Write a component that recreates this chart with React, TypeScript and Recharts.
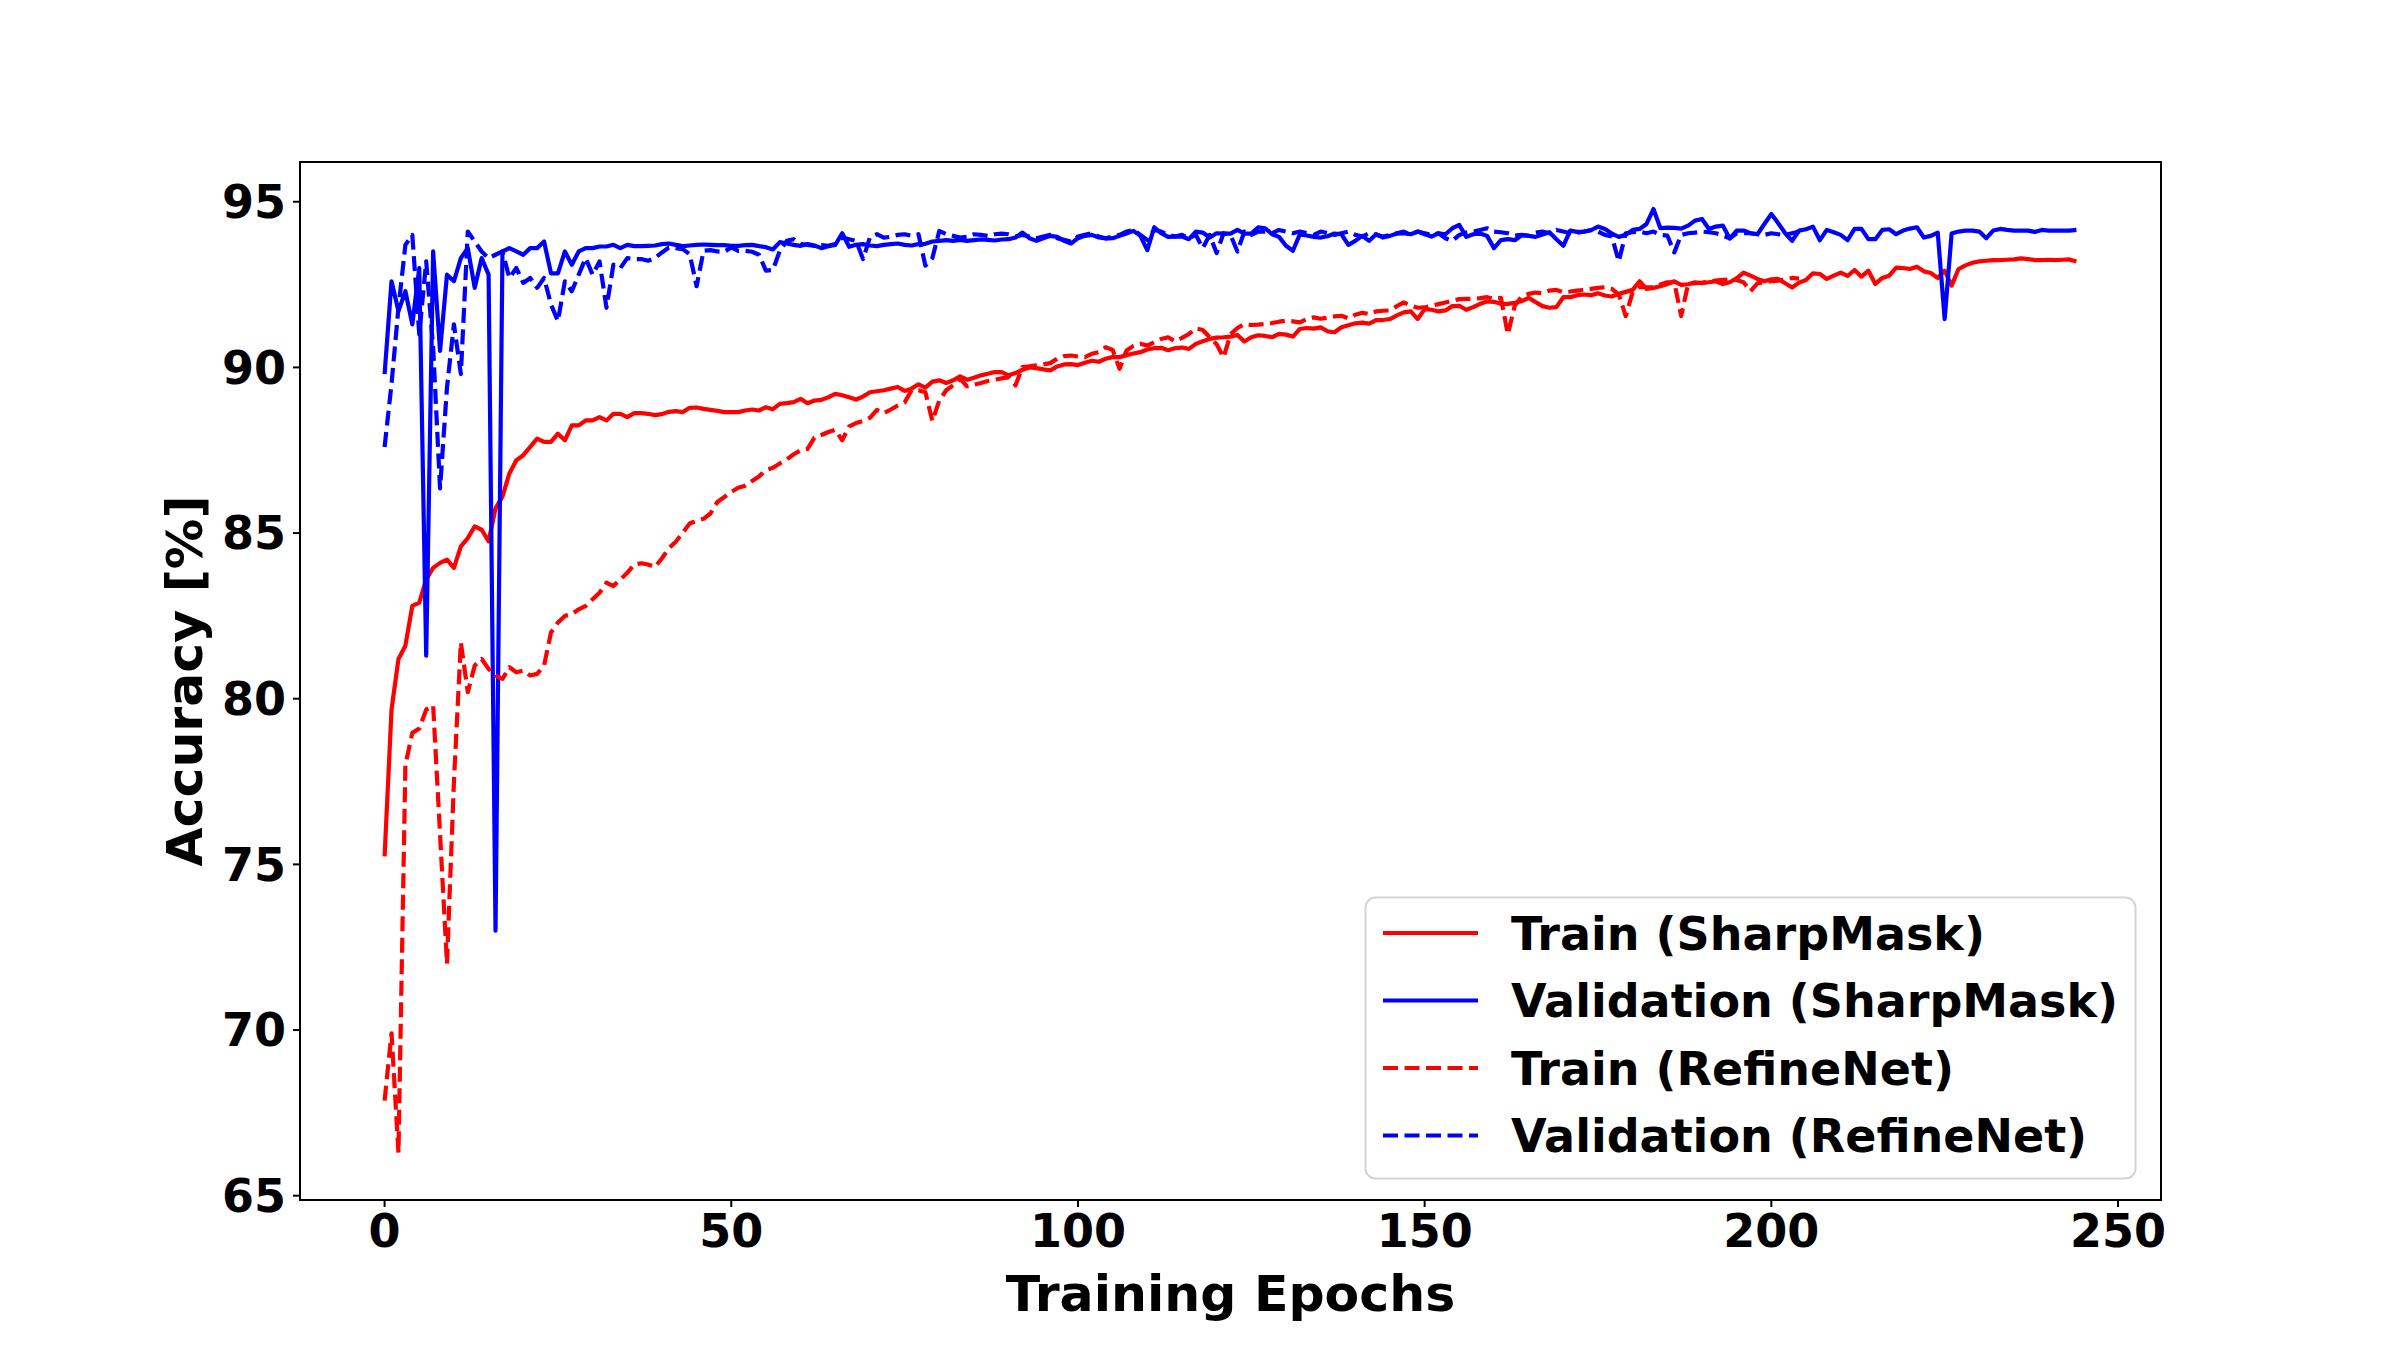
import React from 'react';
import { LineChart, Line, XAxis, YAxis, Legend, ReferenceArea, Label } from 'recharts';

// ---- data ----
const trainSharpMask = [
  75.24, 79.67, 81.2, 81.6, 82.8, 82.9, 83.6, 83.95, 84.1, 84.2, 83.95, 84.6, 84.85, 85.2, 85.1, 84.75, 85.75, 86.1, 86.8, 87.2,
  87.35, 87.6, 87.85, 87.75, 87.75, 88.0, 87.8, 88.25, 88.25, 88.4, 88.4, 88.5, 88.4, 88.6, 88.6, 88.5,
  88.62, 88.62, 88.6, 88.56, 88.59, 88.66, 88.68, 88.65, 88.78, 88.79, 88.75, 88.72, 88.69, 88.65, 88.65, 88.65, 88.7, 88.73, 88.7, 88.8,
  88.74, 88.9, 88.92, 88.95, 89.05, 88.92, 89.0, 89.02, 89.1, 89.2, 89.16, 89.1, 89.03, 89.12, 89.25, 89.28, 89.31, 89.36, 89.41, 89.29,
  89.36, 89.49, 89.39, 89.57, 89.61, 89.53, 89.61, 89.73, 89.63, 89.69, 89.76, 89.81, 89.86, 89.86, 89.76,
  89.83, 89.93, 90.0, 89.98, 89.94, 89.91, 90.03, 90.09, 90.1, 90.07, 90.14, 90.2, 90.17, 90.26, 90.31, 90.31, 90.37, 90.42, 90.46, 90.54,
  90.58, 90.59, 90.52, 90.58, 90.6, 90.56, 90.71, 90.79, 90.86, 90.9, 90.91, 90.93, 90.98, 90.78, 90.91, 90.97, 90.95, 90.91, 91.01, 90.99,
  90.93, 91.16, 91.19, 91.17, 91.21, 91.09, 91.06, 91.21, 91.27, 91.33, 91.35, 91.32, 91.43, 91.43,
  91.46, 91.57, 91.66, 91.69, 91.46, 91.76, 91.74, 91.69, 91.72, 91.85, 91.86, 91.74, 91.82, 91.92, 91.99, 91.98, 91.92, 91.92, 91.95, 92.0,
  92.1, 91.97, 91.85, 91.8, 91.82, 92.12, 92.12, 92.18, 92.2, 92.18, 92.24, 92.17, 92.14, 92.22, 92.28, 92.34, 92.6, 92.37, 92.4, 92.45,
  92.52, 92.6, 92.49, 92.51, 92.57, 92.54, 92.57, 92.6, 92.52, 92.57, 92.69, 92.86, 92.77, 92.67, 92.6, 92.66, 92.67,
  92.54, 92.41, 92.56, 92.64, 92.84, 92.82, 92.67, 92.77, 92.86, 92.76, 92.94, 92.74, 92.92, 92.52, 92.7, 92.77, 93.01, 93.0, 92.97, 93.04,
  92.9, 92.85, 92.7, 92.92, 92.47, 92.97, 93.08, 93.16, 93.2, 93.22, 93.24, 93.24, 93.25, 93.26, 93.29, 93.27, 93.24, 93.24, 93.25, 93.24,
  93.25, 93.26, 93.2,
];

const valSharpMask = [
  89.8, 92.6, 91.7, 92.3, 91.3, 93.0, 81.3, 93.5, 90.5, 92.8, 92.6, 93.3, 93.6, 92.4, 93.3, 92.8, 73.0, 93.5, 93.6, 93.5,
  93.4, 93.6, 93.6, 93.8, 92.84, 92.84, 93.5, 93.1, 93.5, 93.6, 93.6, 93.65, 93.65, 93.7, 93.6, 93.7,
  93.66, 93.66, 93.67, 93.68, 93.72, 93.74, 93.7, 93.66, 93.68, 93.7, 93.71, 93.7, 93.69, 93.69, 93.67, 93.67, 93.69, 93.7, 93.66, 93.63,
  93.56, 93.78, 93.74, 93.7, 93.67, 93.72, 93.68, 93.6, 93.66, 93.7, 94.05, 93.64, 93.7, 93.72, 93.68, 93.66, 93.7, 93.72, 93.74, 93.7,
  93.68, 93.72, 93.73, 93.8, 93.82, 93.84, 93.82, 93.85, 93.82, 93.84, 93.86, 93.85, 93.83, 93.86, 93.87,
  93.92, 94.07, 93.9, 93.82, 93.9, 93.97, 93.94, 93.82, 93.74, 93.9, 93.97, 94.0, 93.92, 93.89, 93.9, 93.97, 94.04, 94.12, 93.97, 93.54,
  94.23, 94.05, 93.94, 93.95, 93.95, 93.87, 94.1, 94.07, 93.92, 94.05, 94.04, 94.04, 94.15, 94.04, 94.04, 94.23, 94.2, 94.02, 93.94, 93.67,
  93.52, 94.02, 93.98, 93.94, 93.92, 93.96, 94.04, 94.02, 93.7, 93.82, 93.97, 93.82, 94.02, 93.92,
  93.97, 94.04, 94.05, 94.02, 94.1, 94.02, 93.95, 94.05, 94.02, 94.2, 94.3, 93.94, 94.02, 94.04, 93.97, 93.6, 93.84, 93.87, 93.84, 93.99,
  93.97, 93.94, 94.01, 94.08, 93.87, 93.67, 94.13, 94.09, 94.1, 94.14, 94.25, 94.18, 94.04, 93.94, 94.0, 94.15, 94.18, 94.33, 94.78, 94.2,
  94.22, 94.21, 94.19, 94.28, 94.43, 94.48, 94.18, 94.25, 94.28, 93.89, 94.13, 94.13, 94.05, 94.02, 94.33, 94.63, 94.35,
  94.05, 93.82, 94.13, 94.17, 94.25, 93.84, 94.15, 94.08, 94.0, 93.84, 94.18, 94.18, 93.87, 93.87, 94.15, 94.17, 94.02, 94.13, 94.19, 94.23,
  93.92, 93.97, 94.07, 91.46, 94.04, 94.1, 94.13, 94.13, 94.1, 93.9, 94.13, 94.18, 94.15, 94.13, 94.13, 94.13, 94.09, 94.15, 94.13, 94.13,
  94.13, 94.13, 94.15,
];

const trainRefineNet = [
  67.87, 69.9, 66.3, 78.0, 78.97, 79.1, 79.67, 79.8, 75.9, 72.0, 77.5, 81.7, 80.2, 81.0, 81.2, 80.9, 80.7, 80.6, 80.95, 80.8,
  80.85, 80.7, 80.75, 81.0, 82.0, 82.3, 82.5, 82.55, 82.7, 82.8, 83.0, 83.2, 83.5, 83.4, 83.6, 83.8,
  84.05, 84.09, 84.05, 83.97, 84.24, 84.54, 84.74, 85.01, 85.29, 85.37, 85.43, 85.59, 85.94, 86.09, 86.24, 86.37, 86.43, 86.57, 86.71, 86.9,
  86.97, 87.1, 87.22, 87.38, 87.5, 87.54, 87.88, 87.96, 88.05, 88.12, 87.8, 88.22, 88.32, 88.38, 88.48, 88.72, 88.62, 88.73, 88.85, 88.94,
  89.31, 89.31, 89.25, 88.38, 89.0, 89.31, 89.46, 89.66, 89.43, 89.48, 89.53, 89.59, 89.63, 89.67, 89.71,
  89.46, 90.01, 90.03, 90.06, 90.09, 90.13, 90.26, 90.34, 90.36, 90.33, 90.31, 90.41, 90.46, 90.61, 90.53, 89.96, 90.51, 90.65, 90.71, 90.66,
  90.76, 90.86, 90.91, 90.79, 90.89, 91.01, 91.18, 91.13, 90.91, 90.7, 90.3, 91.0, 91.19, 91.31, 91.28, 91.29, 91.31, 91.34, 91.38, 91.41,
  91.39, 91.36, 91.46, 91.51, 91.47, 91.5, 91.54, 91.56, 91.48, 91.59, 91.65, 91.61, 91.69, 91.71,
  91.72, 91.85, 91.96, 91.87, 91.8, 91.81, 91.86, 91.91, 91.96, 92.01, 92.06, 92.07, 92.07, 92.09, 92.12, 92.07, 92.1, 91.0, 91.87, 92.14,
  92.22, 92.26, 92.24, 92.32, 92.34, 92.27, 92.29, 92.32, 92.34, 92.37, 92.4, 92.42, 92.37, 92.2, 91.55, 92.27, 92.42, 92.42, 92.42, 92.5,
  92.57, 92.57, 91.55, 92.52, 92.54, 92.56, 92.59, 92.62, 92.64, 92.66, 92.64, 92.57, 92.3, 92.54, 92.57, 92.6, 92.62, 92.65, 92.7, 92.68,
];

const valRefineNet = [
  87.6, 89.5, 91.8, 93.7, 94.0, 91.0, 93.2, 90.6, 86.35, 89.4, 91.3, 89.8, 94.1, 93.8, 93.5, 93.3, 93.4, 93.5, 92.7, 93.0,
  92.55, 92.7, 92.4, 92.7, 91.9, 91.4, 92.6, 92.3, 92.8, 93.3, 92.8, 93.2, 91.8, 93.1, 93.0, 93.3,
  93.27, 93.27, 93.22, 93.3, 93.47, 93.62, 93.6, 93.57, 93.42, 92.45, 93.52, 93.54, 93.5, 93.49, 93.62, 93.52, 93.52, 93.49, 93.4, 92.92,
  92.94, 93.52, 93.82, 93.87, 93.72, 93.7, 93.67, 93.69, 93.67, 93.72, 93.92, 93.87, 93.82, 93.27, 93.92, 94.02, 93.92, 93.94, 94.0, 94.02,
  93.97, 94.02, 93.07, 93.3, 94.12, 94.02, 93.97, 93.92, 93.94, 94.02, 94.0, 93.97, 94.02, 94.04, 94.02,
  93.95, 94.0, 93.95, 93.9, 93.95, 94.0, 93.9, 93.85, 93.8, 93.95, 94.0, 94.05, 93.95, 93.9, 93.95, 94.0, 94.1, 94.15, 94.0, 93.85,
  94.15, 94.1, 94.0, 93.95, 94.0, 93.9, 94.0, 93.6, 94.0, 93.45, 94.05, 94.0, 93.5, 94.1, 94.0, 94.1, 94.1, 94.05, 94.15, 94.1,
  94.05, 94.1, 94.05, 94.0, 94.1, 94.05, 94.0, 94.05, 94.1, 94.0, 93.95, 94.05, 94.0, 93.95,
  94.0, 94.05, 94.1, 94.0, 94.1, 94.05, 94.0, 94.05, 93.9, 93.82, 94.0, 94.07, 94.1, 94.15, 94.2, 94.1, 94.08, 94.05, 93.98, 94.0,
  93.97, 94.07, 94.1, 94.05, 94.15, 94.1, 94.05, 94.07, 94.1, 94.15, 94.1, 94.0, 93.95, 93.2, 94.05, 94.08, 94.1, 94.05, 94.1, 94.0,
  93.98, 93.47, 94.0, 94.05, 94.07, 94.1, 94.08, 94.05, 93.98, 93.9, 94.05, 94.05, 94.05, 94.02, 94.0, 94.05, 94.02, 94.0, 94.05, 94.1,
];

const xTicks = [0, 50, 100, 150, 200, 250];
const yTicks = [65, 70, 75, 80, 85, 90, 95];
const xDomain: [number, number] = [-12.2, 256.2];
const yDomain: [number, number] = [64.87, 96.2];

const RED = '#ff0000';
const BLUE = '#0000ff';
const DASH = '15 6.5';
const FONT = '"DejaVu Sans", Verdana, sans-serif';
const TICK_FS = 46;
const LABEL_FS = 50.5;

const legendItems = [
  { name: 'Train (SharpMask)', color: RED, dash: undefined as string | undefined },
  { name: 'Validation (SharpMask)', color: BLUE, dash: undefined as string | undefined },
  { name: 'Train (RefineNet)', color: RED, dash: DASH },
  { name: 'Validation (RefineNet)', color: BLUE, dash: DASH },
];

const data = trainSharpMask.map((v, i) => ({
  epoch: i,
  trainSharp: v,
  valSharp: valSharpMask[i],
  trainRefine: trainRefineNet[i],
  valRefine: valRefineNet[i],
}));

const LEG_W = 773;
const LEG_H = 284;

const renderLegend = () => (
  <svg width={LEG_W} height={LEG_H} style={{ display: 'block' }}>
    <rect x={1.5} y={1.5} width={LEG_W - 3} height={LEG_H - 3} rx={10} ry={10} fill="#ffffff" fillOpacity={0.8} stroke="#d4d4d4" strokeWidth={2} />
    {legendItems.map((it, i) => {
      const cy = 37 + i * 67.5;
      return (
        <g key={it.name}>
          <line x1={19} x2={114} y1={cy} y2={cy} stroke={it.color} strokeWidth={4} strokeDasharray={it.dash} />
          <text x={147} y={cy} dy="0.36em" fontSize={TICK_FS} fontWeight="bold" fontFamily={FONT} fill="#000">
            {it.name}
          </text>
        </g>
      );
    })}
  </svg>
);

const YLabel = (props: any) => {
  const vb = props.viewBox || { x: 0, y: 162, width: 300, height: 1038 };
  const cx = vb.x + 201.5;
  const cy = vb.y + vb.height / 2;
  return (
    <text x={cx} y={cy} transform={`rotate(-90, ${cx}, ${cy})`} textAnchor="middle" fontSize={LABEL_FS} fontWeight="bold" fontFamily={FONT} fill="#000">
      Accuracy [%]
    </text>
  );
};

const XLabel = (props: any) => {
  const vb = props.viewBox || { x: 300, y: 1200, width: 1861, height: 150 };
  const cx = vb.x + vb.width / 2;
  const cy = vb.y + 111;
  return (
    <text x={cx} y={cy} textAnchor="middle" fontSize={LABEL_FS} fontWeight="bold" fontFamily={FONT} fill="#000">
      Training Epochs
    </text>
  );
};

const tickStyle = { fontSize: TICK_FS, fontWeight: 'bold', fill: '#000', fontFamily: FONT };

export default function App() {
  return (
    <div style={{ position: 'absolute', left: 0, top: 0, width: 2400, height: 1350, background: '#fff' }}>
      <LineChart width={2400} height={1350} data={data} margin={{ top: 162, right: 239, bottom: 0, left: 0 }}>
        <XAxis
          type="number"
          dataKey="epoch"
          domain={xDomain}
          ticks={xTicks}
          interval={0}
          allowDataOverflow
          height={150}
          tickSize={7}
          tickMargin={7}
          tick={tickStyle}
          tickLine={{ stroke: '#000', strokeWidth: 2 }}
          axisLine={{ stroke: '#000', strokeWidth: 2 }}
        >
          <Label content={<XLabel />} />
        </XAxis>
        <YAxis
          type="number"
          domain={yDomain}
          ticks={yTicks}
          interval={0}
          allowDataOverflow
          width={300}
          tickSize={7}
          tickMargin={7}
          tick={tickStyle}
          tickLine={{ stroke: '#000', strokeWidth: 2 }}
          axisLine={{ stroke: '#000', strokeWidth: 2 }}
        >
          <Label content={<YLabel />} />
        </YAxis>
        <ReferenceArea x1={xDomain[0]} x2={xDomain[1]} y1={yDomain[0]} y2={yDomain[1]} fill="none" fillOpacity={0} stroke="#000" strokeWidth={2} ifOverflow="visible" />
        <Line type="linear" dataKey="trainSharp" name="Train (SharpMask)" stroke={RED} strokeWidth={4.2} dot={false} activeDot={false} strokeLinejoin="round" isAnimationActive={false} />
        <Line type="linear" dataKey="valSharp" name="Validation (SharpMask)" stroke={BLUE} strokeWidth={4.2} dot={false} activeDot={false} strokeLinejoin="round" isAnimationActive={false} />
        <Line type="linear" dataKey="trainRefine" name="Train (RefineNet)" stroke={RED} strokeWidth={4.2} strokeDasharray={DASH} dot={false} activeDot={false} strokeLinejoin="round" isAnimationActive={false} />
        <Line type="linear" dataKey="valRefine" name="Validation (RefineNet)" stroke={BLUE} strokeWidth={4.2} strokeDasharray={DASH} dot={false} activeDot={false} strokeLinejoin="round" isAnimationActive={false} />
        <Legend
          layout="vertical"
          align="center"
          verticalAlign="middle"
          width={LEG_W}
          height={LEG_H}
          content={renderLegend}
          wrapperStyle={{ position: 'absolute', left: 1364, top: 896, width: LEG_W, height: LEG_H, right: 'auto', bottom: 'auto' }}
        />
      </LineChart>
    </div>
  );
}
